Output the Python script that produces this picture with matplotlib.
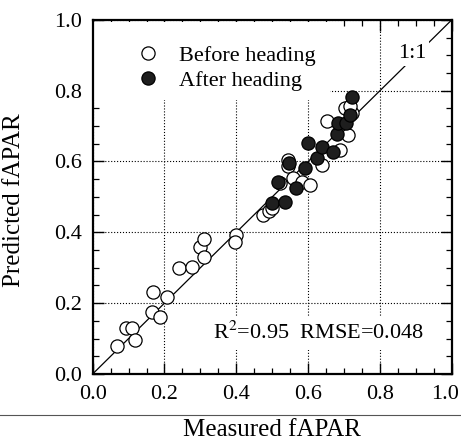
import numpy as np
import matplotlib
matplotlib.use('Agg')
import matplotlib.pyplot as plt
import matplotlib.transforms as mtransforms
from matplotlib.lines import Line2D
from matplotlib.patches import Rectangle

# before heading (open circles)
before_x = [0.067, 0.093, 0.110, 0.118, 0.169, 0.164, 0.188, 0.206, 0.240, 0.276,
            0.299, 0.311, 0.310, 0.399, 0.397, 0.475, 0.492, 0.499, 0.543, 0.545,
            0.522, 0.559, 0.582, 0.605, 0.638, 0.652, 0.689, 0.703, 0.712, 0.721,
            0.717]
before_y = [0.080, 0.129, 0.129, 0.096, 0.231, 0.174, 0.162, 0.218, 0.300, 0.303,
            0.358, 0.380, 0.331, 0.393, 0.372, 0.449, 0.459, 0.468, 0.605, 0.586,
            0.539, 0.553, 0.543, 0.534, 0.590, 0.713, 0.633, 0.750, 0.675, 0.736,
            0.757]
# after heading (filled circles)
after_x = [0.499, 0.536, 0.517, 0.548, 0.566, 0.591, 0.601, 0.624, 0.638, 0.670,
           0.681, 0.684, 0.705, 0.717, 0.721]
after_y = [0.482, 0.487, 0.543, 0.595, 0.526, 0.583, 0.652, 0.610, 0.642, 0.628,
           0.678, 0.708, 0.708, 0.732, 0.782]

plt.rcParams['font.family'] = ['Liberation Serif', 'DejaVu Serif']
plt.rcParams['mathtext.fontset'] = 'stix'

fig = plt.figure(figsize=(4.61, 4.41), dpi=100)
ax = fig.add_axes([0.201, 0.152, 0.779, 0.803])

ax.plot([0, 1], [0, 1], color='black', lw=0.9, zorder=2)
ax.plot(before_x, before_y, 'o', ms=9.5, mfc='white', mec='black', mew=0.9,
        ls='none', zorder=3, label='Before heading')
ax.plot(after_x, after_y, 'o', ms=9.5, mfc='#1e1e1e', mec='black', mew=0.9,
        ls='none', zorder=4, label='After heading')

ax.set_xlim(0, 1)
ax.set_ylim(0, 1)
ax.set_xticks(np.arange(0, 1.01, 0.2))
ax.set_yticks(np.arange(0, 1.01, 0.2))
ax.set_xticks(np.arange(0, 1.01, 0.05), minor=True)
ax.set_yticks(np.arange(0, 1.01, 0.05), minor=True)
ax.xaxis.set_major_formatter(plt.FormatStrFormatter('%.1f'))
ax.yaxis.set_major_formatter(plt.FormatStrFormatter('%.1f'))
ax.tick_params(which='both', direction='in', top=True, right=True, labelsize=16)
ax.tick_params(which='major', length=8, width=1.0, pad=8)
ax.tick_params(which='minor', length=4, width=0.9)
ax.grid(True, which='major', ls=':', color='black', lw=0.8)
ax.set_axisbelow(True)
for s in ax.spines.values():
    s.set_linewidth(1.6)

# nudge the last x label so it stays inside the figure
fig.canvas.draw()
last = ax.get_xticklabels()[-1]
last.set_transform(last.get_transform() +
                   mtransforms.ScaledTranslation(-5 / 72, 0, fig.dpi_scale_trans))

# legend area blanks the grid
ax.add_patch(Rectangle((0.005, 0.775), 0.655, 0.22, transform=ax.transAxes,
                       facecolor='white', edgecolor='none', zorder=1.5))
leg = ax.legend(loc='upper left', bbox_to_anchor=(0.08, 0.965), frameon=False,
                fontsize=16, handletextpad=0.8, borderaxespad=0.2,
                labelspacing=0.2, handlelength=1.2)

ax.text(0.89, 0.905, '1:1', fontsize=16, ha='center', va='center', zorder=5,
        bbox=dict(facecolor='white', edgecolor='none', pad=2))
ax.text(0.335, 0.116, r'R$^2$=0.95  RMSE=0.048', fontsize=16, ha='left',
        va='center', zorder=5, bbox=dict(facecolor='white', edgecolor='none', pad=4))

ax.set_ylabel('Predicted fAPAR', fontsize=18)
ax.yaxis.set_label_coords(-0.189, 0.49)
fig.text(0.59, 0.025, 'Measured fAPAR', fontsize=18, ha='center', va='center')
fig.add_artist(Line2D([0.0, 1.0], [0.059, 0.059], transform=fig.transFigure,
                      color='#555555', lw=0.8))

fig.savefig('out.png', dpi=100)
